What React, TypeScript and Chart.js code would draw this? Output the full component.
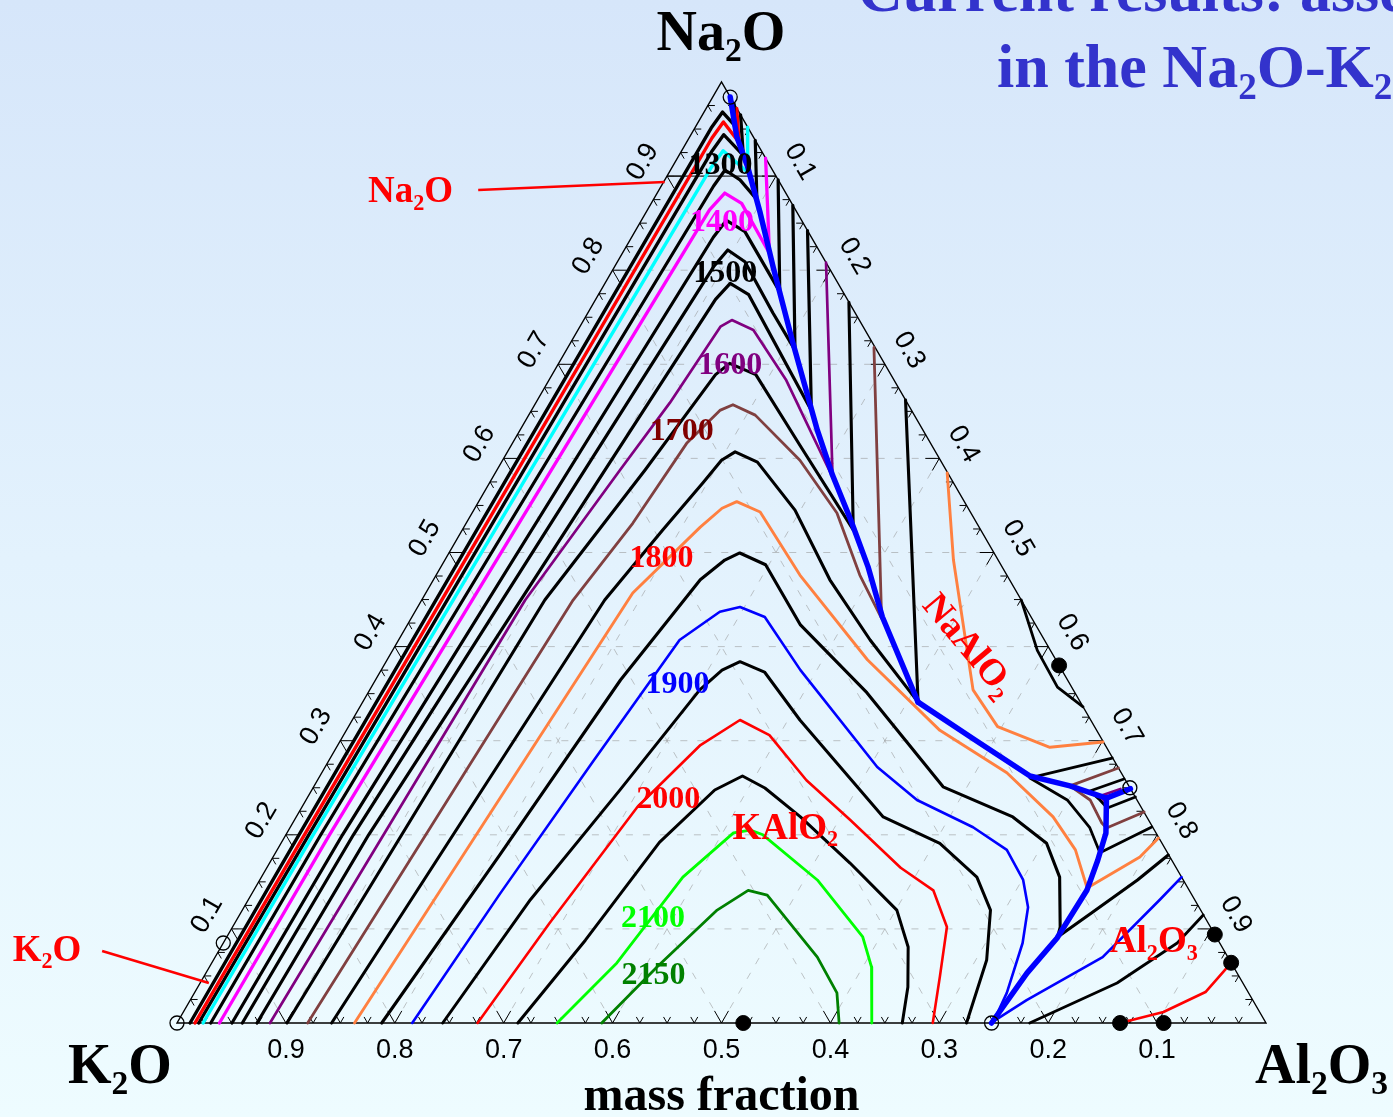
import React, { useEffect, useRef } from "react";
import { Chart, registerables } from "chart.js";

Chart.register(...registerables);

// All composition points are [Na2O, Al2O3] mass fractions (K2O = 1 - Na2O - Al2O3)
type Pt = [number, number];

// ---------- axis ticks ----------
const tickValues = [0.1, 0.2, 0.3, 0.4, 0.5, 0.6, 0.7, 0.8, 0.9];
const gridValues = [0.1, 0.2, 0.3, 0.4, 0.5, 0.6, 0.7, 0.8, 0.9];

// ---------- liquidus isotherms (K) ----------
const iso1150: Pt[] = [[0, 0.012], [0.2, 0.012], [0.951, 0.015], [0.968, 0.017], [0.954, 0.035], [0.977, 0.023]];
const iso1200: Pt[] = [[0, 0.0165], [0.2, 0.017], [0.9405, 0.021], [0.9575, 0.023], [0.936, 0.048], [0.972, 0.028]];
const iso1250: Pt[] = [[0, 0.02], [0.2, 0.021], [0.927, 0.028], [0.944, 0.03], [0.922, 0.059], [0.965, 0.035]];
const iso1300: Pt[] = [[0, 0.024], [0.2, 0.025], [0.91, 0.036], [0.927, 0.038], [0.904, 0.072], [0.952, 0.048]];
const iso1350: Pt[] = [[0, 0.031], [0.2, 0.032], [0.8895, 0.048], [0.9065, 0.05], [0.896, 0.069], [0.875, 0.095], [0.938, 0.062]];
const iso1400: Pt[] = [[0, 0.039], [0.2, 0.04], [0.864, 0.057], [0.882, 0.062], [0.871, 0.083], [0.818, 0.135], [0.919, 0.081]];
const iso1450: Pt[] = [[0, 0.0505], [0.2, 0.052], [0.835, 0.075], [0.853, 0.078], [0.841, 0.101], [0.777, 0.165], [0.896, 0.104]];
const iso1500: Pt[] = [[0, 0.06], [0.2, 0.062], [0.8045, 0.091], [0.8215, 0.095], [0.809, 0.117], [0.7545, 0.17], [0.715, 0.21], [0.869, 0.131]];
const iso1550: Pt[] = [[0, 0.0735], [0.2, 0.076], [0.769, 0.11], [0.786, 0.115], [0.774, 0.138], [0.651, 0.257], [0.842, 0.158]];
const iso1600: Pt[] = [[0, 0.0854], [0.4495, 0.095], [0.588, 0.113], [0.659, 0.123], [0.74, 0.129], [0.747, 0.136], [0.7365, 0.161], [0.683, 0.218], [0.58, 0.312], [0.808, 0.192]];
const iso1600b: Pt[] = [[0.2487, 0.742], [0.2412, 0.727], [0.235, 0.735]];
const iso1650: Pt[] = [[0, 0.101], [0.4495, 0.113], [0.588, 0.136], [0.689, 0.15], [0.701, 0.157], [0.689, 0.187], [0.614, 0.265], [0.524, 0.359], [0.766, 0.234]];
const iso1650b: Pt[] = [[0.2593, 0.74], [0.2465, 0.715], [0.237, 0.729], [0.2285, 0.74], [0.2402, 0.76]];
const iso1700: Pt[] = [[0, 0.12], [0.4495, 0.139], [0.531, 0.153], [0.616, 0.16], [0.651, 0.173], [0.657, 0.182], [0.646, 0.208], [0.598, 0.273], [0.542, 0.335], [0.476, 0.389], [0.43, 0.432], [0.718, 0.281]];
const iso1700b: Pt[] = [[0.271, 0.729], [0.252, 0.694], [0.237, 0.72], [0.2125, 0.743], [0.2072, 0.75], [0.2242, 0.776]];
const iso1750: Pt[] = [[0, 0.142], [0.4495, 0.168], [0.524, 0.184], [0.574, 0.196], [0.598, 0.201], [0.607, 0.209], [0.596, 0.235], [0.545, 0.295], [0.471, 0.364], [0.407, 0.433], [0.341, 0.51], [0.662, 0.338]];
const iso1750b: Pt[] = [[0.2816, 0.718], [0.2604, 0.653], [0.237, 0.699], [0.208, 0.734], [0.181, 0.757], [0.2083, 0.791]];
const iso1800: Pt[] = [[0, 0.163], [0.457, 0.19], [0.527, 0.217], [0.547, 0.227], [0.554, 0.237], [0.543, 0.264], [0.476, 0.334], [0.386, 0.441], [0.311, 0.545], [0.266, 0.629], [0.219, 0.695], [0.184, 0.733], [0.1435, 0.764], [0.1764, 0.796], [0.1966, 0.803]];
const iso1800b: Pt[] = [[0.5845, 0.415], [0.492, 0.467], [0.354, 0.554], [0.315, 0.596], [0.293, 0.655], [0.2986, 0.701]];
const iso1850: Pt[] = [[0, 0.188], [0.1785, 0.207], [0.3645, 0.225], [0.471, 0.245], [0.492, 0.257], [0.4995, 0.267], [0.487, 0.297], [0.423, 0.361], [0.351, 0.458], [0.251, 0.578], [0.219, 0.658], [0.191, 0.703], [0.155, 0.733], [0.102, 0.76], [0.0914, 0.763], [0.118, 0.782], [0.152, 0.806], [0.1785, 0.821]];
const iso1850b: Pt[] = [[0.4495, 0.5505], [0.396, 0.592], [0.357, 0.63], [0.336, 0.664]];
const iso1900: Pt[] = [[0, 0.216], [0.138, 0.228], [0.277, 0.243], [0.407, 0.258], [0.437, 0.28], [0.442, 0.296], [0.4315, 0.324], [0.375, 0.385], [0.272, 0.507], [0.237, 0.561], [0.208, 0.627], [0.184, 0.67], [0.152, 0.701], [0.123, 0.72], [0.085, 0.734], [0.032, 0.746], [0.002, 0.749], [0.0244, 0.768], [0.07, 0.815], [0.131, 0.837], [0.155, 0.845]];
const iso1950: Pt[] = [[0, 0.244], [0.131, 0.259], [0.248, 0.283], [0.354, 0.303], [0.375, 0.313], [0.384, 0.325], [0.373, 0.353], [0.322, 0.411], [0.219, 0.539], [0.191, 0.605], [0.155, 0.657], [0.12, 0.687], [0.067, 0.71], [0, 0.725]];
const iso1950b: Pt[] = [[0, 0.783], [0.0425, 0.842], [0.085, 0.876], [0.1148, 0.885]];
const iso2000: Pt[] = [[0, 0.276], [0.106, 0.289], [0.2295, 0.308], [0.2954, 0.333], [0.322, 0.356], [0.306, 0.391], [0.258, 0.449], [0.216, 0.51], [0.165, 0.582], [0.141, 0.624], [0.102, 0.656], [0.049, 0.676], [0, 0.694]];
const iso2000b: Pt[] = [[0, 0.866], [0.0117, 0.9], [0.0329, 0.928], [0.064, 0.936]];
const iso2050: Pt[] = [[0, 0.313], [0.088, 0.331], [0.192, 0.347], [0.2476, 0.37], [0.2625, 0.388], [0.2497, 0.415], [0.219, 0.463], [0.17, 0.533], [0.12, 0.601], [0.0808, 0.631], [0.0383, 0.652], [0, 0.666]];
const iso2100: Pt[] = [[0, 0.349], [0.0638, 0.372], [0.155, 0.387], [0.202, 0.41], [0.205, 0.424], [0.2, 0.438], [0.152, 0.512], [0.0914, 0.584], [0.0595, 0.608], [0, 0.638]];
const iso2150: Pt[] = [[0, 0.39], [0.0595, 0.411], [0.12, 0.436], [0.141, 0.454], [0.136, 0.474], [0.07, 0.553], [0.032, 0.59], [0, 0.608]];

// ---------- phase boundaries (univariant lines) ----------
const boundaryNaAlO2KAlO2: Pt[] = [[0.984, 0.016], [0.942, 0.043], [0.91, 0.069], [0.861, 0.105], [0.803, 0.146], [0.723, 0.204], [0.63, 0.273], [0.582, 0.311], [0.535, 0.351], [0.485, 0.392], [0.4315, 0.432], [0.341, 0.51]];
const boundaryMiddle: Pt[] = [[0.341, 0.51], [0.301, 0.582], [0.2625, 0.652], [0.252, 0.694], [0.239, 0.734]];
const boundaryToEdge: Pt[] = [[0.239, 0.734], [0.249, 0.751]];
const boundaryKAlO2Al2O3: Pt[] = [[0.239, 0.734], [0.202, 0.752], [0.173, 0.759], [0.141, 0.765], [0.09, 0.763], [0.053, 0.754], [0, 0.748]];

// ---------- special points ----------
const openCircles: Pt[] = [[0.984, 0.016], [0, 0], [0.085, 0], [0.25, 0.75], [0, 0.748]];
const compoundDots: Pt[] = [[0, 0.52], [0.38, 0.62], [0.094, 0.906], [0.064, 0.936], [0, 0.866], [0, 0.906]];

// ---------- labels ----------
const contourLabelText = ["1300", "1400", "1500", "1600", "1700", "1800", "1900", "2000", "2100", "2150"];
const contourLabelPos: Pt[] = [[0.912, 0.043], [0.851, 0.075], [0.797, 0.105], [0.7, 0.158], [0.629, 0.149], [0.494, 0.198], [0.361, 0.279], [0.238, 0.332], [0.112, 0.381], [0.051, 0.412]];
const phaseLabelText = ["Na2O", "K2O", "KAlO2", "NaAlO2", "Al2O3"];
const phaseLabelPos: Pt[] = [[0.885, -0.228], [0.0792, -0.159], [0.209, 0.454], [0.402, 0.527], [0.088, 0.853]];
const leaderNa2O: Pt[] = [[0.8852, -0.166], [0.8937, 0.001]];
const leaderK2O: Pt[] = [[0.0765, -0.107], [0.0425, 0.008]];

// ---------- styles ----------
const BLACK = "#000000";
const RED = "#ff0000";
const CYAN = "#00ffff";
const MAGENTA = "#ff00ff";
const PURPLE = "#800080";
const BROWN = "#804040";
const ORANGE = "#ff8040";
const BLUE = "#0000ff";
const GREEN = "#00ff00";
const DKGREEN = "#008000";
const contourLabelColors = [BLACK, MAGENTA, BLACK, PURPLE, "#800000", RED, BLUE, RED, GREEN, DKGREEN];

const isoSeries = [
  { name: "1150", color: BLACK, width: 3.4, pts: iso1150 },
  { name: "1200", color: RED, width: 3.4, pts: iso1200 },
  { name: "1250", color: BLACK, width: 3.3, pts: iso1250 },
  { name: "1300", color: CYAN, width: 3.4, pts: iso1300 },
  { name: "1350", color: BLACK, width: 3.2, pts: iso1350 },
  { name: "1400", color: MAGENTA, width: 3.3, pts: iso1400 },
  { name: "1450", color: BLACK, width: 3.2, pts: iso1450 },
  { name: "1500", color: BLACK, width: 3.2, pts: iso1500 },
  { name: "1550", color: BLACK, width: 3.2, pts: iso1550 },
  { name: "1600", color: PURPLE, width: 2.7, pts: iso1600 },
  { name: "1600b", color: PURPLE, width: 2.7, pts: iso1600b },
  { name: "1650", color: BLACK, width: 3.1, pts: iso1650 },
  { name: "1650b", color: BLACK, width: 2.8, pts: iso1650b },
  { name: "1700", color: BROWN, width: 2.8, pts: iso1700 },
  { name: "1700b", color: BROWN, width: 2.8, pts: iso1700b },
  { name: "1750", color: BLACK, width: 3.1, pts: iso1750 },
  { name: "1750b", color: BLACK, width: 2.8, pts: iso1750b },
  { name: "1800", color: ORANGE, width: 2.9, pts: iso1800 },
  { name: "1800b", color: ORANGE, width: 2.9, pts: iso1800b },
  { name: "1850", color: BLACK, width: 3.1, pts: iso1850 },
  { name: "1850b", color: BLACK, width: 2.8, pts: iso1850b },
  { name: "1900", color: BLUE, width: 2.6, pts: iso1900 },
  { name: "1950", color: BLACK, width: 3.0, pts: iso1950 },
  { name: "1950b", color: BLACK, width: 2.8, pts: iso1950b },
  { name: "2000", color: RED, width: 2.6, pts: iso2000 },
  { name: "2000b", color: RED, width: 2.6, pts: iso2000b },
  { name: "2050", color: BLACK, width: 3.0, pts: iso2050 },
  { name: "2100", color: GREEN, width: 2.8, pts: iso2100 },
  { name: "2150", color: DKGREEN, width: 2.8, pts: iso2150 },
];

const boundaries = [boundaryNaAlO2KAlO2, boundaryMiddle, boundaryToEdge, boundaryKAlO2Al2O3];

const toXY = (p: Pt) => ({ x: p[1] + p[0] / 2, y: p[0] });

const W = 1393;
const H = 1117;
const SERIF = '"Liberation Serif", "Times New Roman", serif';
const SANS = '"Liberation Sans", Arial, sans-serif';

type Seg = [string, boolean];
function chemSegs(s: string): Seg[] {
  const out: Seg[] = [];
  for (let i = 0; i < s.length; i++) {
    const ch = s[i];
    const sub = /[0-9]/.test(ch) && i > 0 && /[A-Za-z]/.test(s[i - 1]);
    const last = out[out.length - 1];
    if (last && last[1] === sub) last[0] += ch;
    else out.push([ch, sub]);
  }
  return out;
}

function drawRich(
  ctx: CanvasRenderingContext2D,
  text: string,
  x: number,
  y: number,
  size: number,
  color: string,
  align: "left" | "center",
  vcenter: boolean,
  rot = 0
) {
  const segs = chemSegs(text);
  const subSize = size * 0.6;
  let total = 0;
  const widths = segs.map(([t, sub]) => {
    ctx.font = `bold ${sub ? subSize : size}px ${SERIF}`;
    const w = ctx.measureText(t).width;
    total += w;
    return w;
  });
  ctx.save();
  ctx.translate(x, y);
  if (rot) ctx.rotate(rot);
  ctx.fillStyle = color;
  ctx.textAlign = "left";
  ctx.textBaseline = "alphabetic";
  let cx = align === "center" ? -total / 2 : 0;
  const base = vcenter ? size * 0.33 : 0;
  segs.forEach(([t, sub], i) => {
    ctx.font = `bold ${sub ? subSize : size}px ${SERIF}`;
    ctx.fillText(t, cx, base + (sub ? size * 0.2 : 0));
    cx += widths[i];
  });
  ctx.restore();
}

const ternaryPlugin = {
  id: "ternaryDecor",
  beforeDatasetsDraw(chart: any) {
    const ctx: CanvasRenderingContext2D = chart.ctx;
    const xs = chart.scales.x;
    const ys = chart.scales.y;
    const P = (na: number, al: number): [number, number] => [xs.getPixelForValue(al + na / 2), ys.getPixelForValue(na)];
    const line = (a: [number, number], b: [number, number]) => {
      ctx.beginPath();
      ctx.moveTo(a[0], a[1]);
      ctx.lineTo(b[0], b[1]);
      ctx.stroke();
    };
    ctx.save();
    // dashed grid
    ctx.strokeStyle = "rgba(150,150,150,0.55)";
    ctx.lineWidth = 1;
    ctx.setLineDash([7, 10]);
    gridValues.forEach((v) => {
      line(P(v, 0), P(v, 1 - v));
      line(P(0, v), P(1 - v, v));
      line(P(0, 1 - v), P(1 - v, 0));
    });
    ctx.setLineDash([]);
    ctx.strokeStyle = "#000";
    line(P(0.9, 0), P(0.9, 0.1));
    // outline
    const vK = P(0, 0), vA = P(0, 1), vN = P(1, 0);
    ctx.lineWidth = 1.4;
    ctx.beginPath();
    ctx.moveTo(vK[0], vK[1]);
    ctx.lineTo(vA[0], vA[1]);
    ctx.lineTo(vN[0], vN[1]);
    ctx.closePath();
    ctx.stroke();
    // ticks
    const norm = (dx: number, dy: number): [number, number] => {
      const l = Math.hypot(dx, dy);
      return [dx / l, dy / l];
    };
    const uL = norm(vN[0] - vK[0], vN[1] - vK[1]);
    const uR = norm(vA[0] - vN[0], vA[1] - vN[1]);
    const uB = norm(vA[0] - vK[0], vA[1] - vK[1]);
    ctx.lineWidth = 1;
    const arm = (p: [number, number], d: [number, number], len: number) =>
      line(p, [p[0] + d[0] * len, p[1] + d[1] * len]);
    for (let k = 1; k < 40; k++) {
      const t = k * 0.025;
      const len = k % 4 === 0 ? 14 : 7;
      const pb = P(0, t);
      arm(pb, uL, len);
      arm(pb, [-uR[0], -uR[1]], len);
      const pl = P(t, 0);
      arm(pl, uB, len);
      arm(pl, uR, len);
      const pr = P(1 - t, t);
      arm(pr, [-uB[0], -uB[1]], len);
      arm(pr, [-uL[0], -uL[1]], len);
    }
    ctx.restore();
  },
  afterDatasetsDraw(chart: any) {
    const ctx: CanvasRenderingContext2D = chart.ctx;
    const xs = chart.scales.x;
    const ys = chart.scales.y;
    const P = (na: number, al: number): [number, number] => [xs.getPixelForValue(al + na / 2), ys.getPixelForValue(na)];
    const vK = P(0, 0), vA = P(0, 1), vN = P(1, 0);
    const norm = (dx: number, dy: number): [number, number] => {
      const l = Math.hypot(dx, dy);
      return [dx / l, dy / l];
    };
    const uL = norm(vN[0] - vK[0], vN[1] - vK[1]);
    const uR = norm(vA[0] - vN[0], vA[1] - vN[1]);
    ctx.save();
    // tick labels
    ctx.fillStyle = "#000";
    ctx.font = `27px ${SANS}`;
    ctx.textAlign = "center";
    ctx.textBaseline = "middle";
    const off = 28;
    tickValues.forEach((v) => {
      const label = v.toFixed(1);
      const pb = P(0, 1 - v);
      ctx.fillText(label, pb[0], pb[1] + 28);
      const pl = P(v, 0);
      ctx.save();
      ctx.translate(pl[0] + uL[1] * off, pl[1] - uL[0] * off);
      ctx.rotate(Math.atan2(uL[1], uL[0]));
      ctx.fillText(label, 0, 0);
      ctx.restore();
      const pr = P(1 - v, v);
      ctx.save();
      ctx.translate(pr[0] + uR[1] * off, pr[1] - uR[0] * off);
      ctx.rotate(Math.atan2(uR[1], uR[0]));
      ctx.fillText(label, 0, 0);
      ctx.restore();
    });
    // contour labels
    ctx.font = `bold 32px ${SERIF}`;
    contourLabelText.forEach((t, i) => {
      const p = P(contourLabelPos[i][0], contourLabelPos[i][1]);
      ctx.fillStyle = contourLabelColors[i];
      ctx.fillText(t, p[0], p[1] + 1);
    });
    // leader lines
    ctx.strokeStyle = RED;
    ctx.lineWidth = 2.5;
    [leaderNa2O, leaderK2O].forEach((l) => {
      const a = P(l[0][0], l[0][1]);
      const b = P(l[1][0], l[1][1]);
      ctx.beginPath();
      ctx.moveTo(a[0], a[1]);
      ctx.lineTo(b[0], b[1]);
      ctx.stroke();
    });
    // phase labels
    phaseLabelText.forEach((t, i) => {
      const p = P(phaseLabelPos[i][0], phaseLabelPos[i][1]);
      const rot = t === "NaAlO2" ? (50 * Math.PI) / 180 : 0;
      drawRich(ctx, t, p[0], p[1], 37, RED, "center", true, rot);
    });
    // vertex labels
    drawRich(ctx, "Na2O", vN[0] - 65, vN[1] - 32, 56, "#000", "left", false);
    drawRich(ctx, "K2O", vK[0] - 109, vK[1] + 60, 56, "#000", "left", false);
    drawRich(ctx, "Al2O3", vA[0] - 11, vA[1] + 60, 56, "#000", "left", false);
    // axis title
    ctx.font = `bold 48px ${SERIF}`;
    ctx.fillStyle = "#000";
    ctx.textAlign = "center";
    ctx.textBaseline = "alphabetic";
    ctx.fillText("mass fraction", (vK[0] + vA[0]) / 2, vK[1] + 87);
    // slide title (cropped)
    drawRich(ctx, "Current results: assessment", 858, 11, 62, "#3333cc", "left", false);
    drawRich(ctx, "in the Na2O-K2O-Al2O3 system", 997, 87, 62, "#3333cc", "left", false);
    ctx.restore();
  },
};

export default function App() {
  const ref = useRef<HTMLCanvasElement | null>(null);
  useEffect(() => {
    const canvas = ref.current;
    if (!canvas) return;
    const datasets: any[] = [];
    isoSeries.forEach((s) => {
      datasets.push({
        label: s.name,
        data: s.pts.map(toXY),
        showLine: true,
        borderColor: s.color,
        backgroundColor: s.color,
        borderWidth: s.width,
        pointRadius: 0,
        pointHoverRadius: 0,
        tension: 0,
        fill: false,
        borderJoinStyle: "round",
        borderCapStyle: "round",
        order: 3,
      });
    });
    boundaries.forEach((b, i) => {
      datasets.push({
        label: "boundary" + i,
        data: b.map(toXY),
        showLine: true,
        borderColor: BLUE,
        backgroundColor: BLUE,
        borderWidth: 5.5,
        pointRadius: 0,
        pointHoverRadius: 0,
        tension: 0,
        fill: false,
        borderJoinStyle: "round",
        borderCapStyle: "round",
        order: 2,
      });
    });
    datasets.push({
      label: "open",
      data: openCircles.map(toXY),
      showLine: false,
      pointRadius: 7,
      pointStyle: "circle",
      pointBackgroundColor: "rgba(0,0,0,0)",
      pointBorderColor: "#000",
      pointBorderWidth: 1.3,
      order: 1,
    });
    datasets.push({
      label: "dots",
      data: compoundDots.map(toXY),
      showLine: false,
      pointRadius: 7.5,
      pointStyle: "circle",
      pointBackgroundColor: "#000",
      pointBorderColor: "#000",
      pointBorderWidth: 1,
      order: 0,
    });
    const chart = new Chart(canvas, {
      type: "scatter",
      data: { datasets },
      options: {
        animation: false,
        responsive: false,
        maintainAspectRatio: false,
        devicePixelRatio: 1,
        events: [],
        layout: { padding: 0, autoPadding: false },
        plugins: { legend: { display: false }, tooltip: { enabled: false }, title: { display: false } },
        scales: {
          x: { type: "linear", display: false, min: -177 / 1089, max: (W - 177) / 1089 },
          y: { type: "linear", display: false, min: -(H - 1023) / 941, max: 1023 / 941 },
        },
      } as any,
      plugins: [ternaryPlugin],
    });
    return () => chart.destroy();
  }, []);
  return (
    <div
      style={{
        position: "fixed",
        left: 0,
        top: 0,
        width: W,
        height: H,
        background: "linear-gradient(180deg, #d6e6fa 0%, #e3f2fd 50%, #eefcff 100%)",
        overflow: "hidden",
      }}
    >
      <canvas ref={ref} width={W} height={H} style={{ display: "block", width: W, height: H }} />
    </div>
  );
}
